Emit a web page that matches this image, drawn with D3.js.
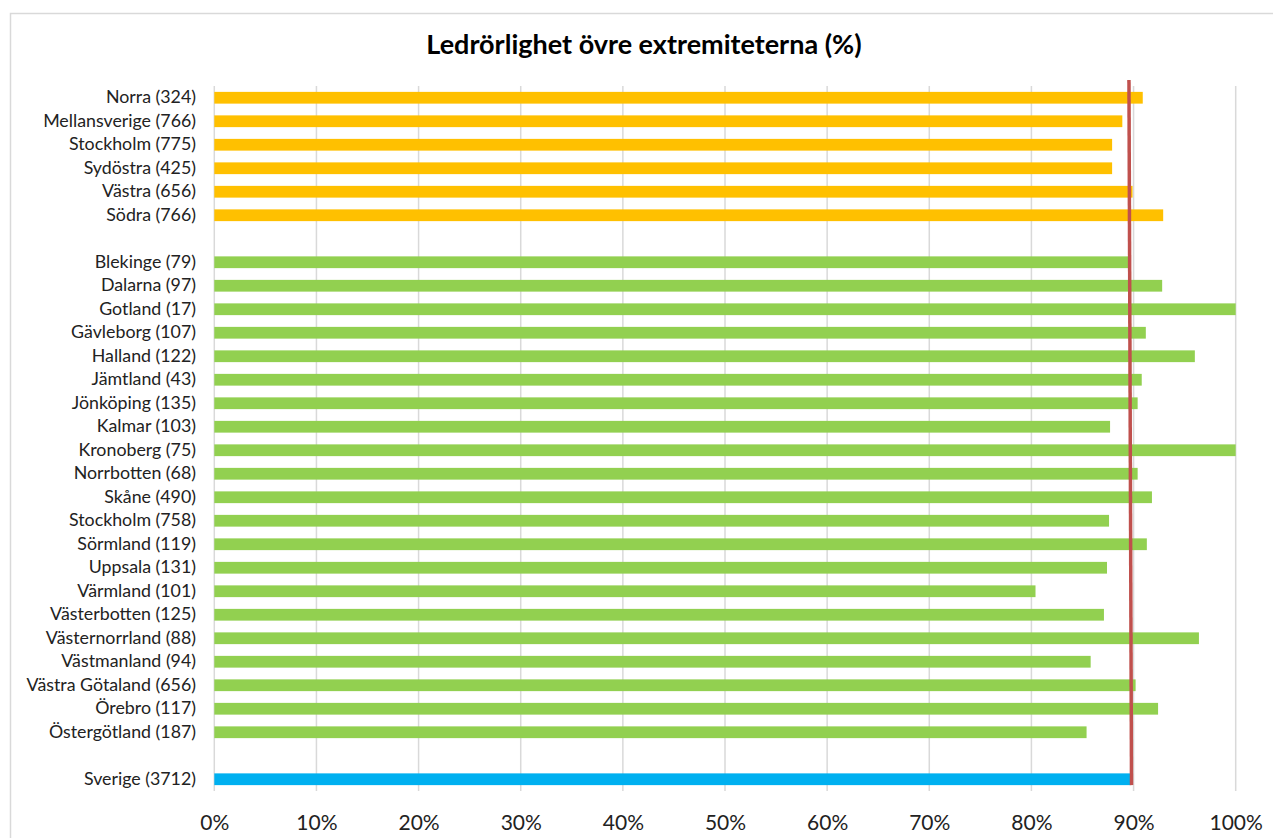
<!DOCTYPE html>
<html>
<head>
<meta charset="utf-8">
<script src="https://cdn.jsdelivr.net/npm/d3@7/dist/d3.min.js"></script>
<style>
  html, body { margin: 0; padding: 0; background: #fff; }
  svg { display: block; }
  text { font-family: Lato, "Open Sans", sans-serif; }
</style>
</head>
<body>
<svg id="chart" width="1273" height="838"></svg>
<script>
// Regional groups (number of patients in parentheses)
const regions = ["Norra (324)", "Mellansverige (766)", "Stockholm (775)", "Sydöstra (425)", "Västra (656)", "Södra (766)"];
const regionValues = [90.9, 88.9, 87.9, 87.9, 89.9, 92.9];

// Counties
const counties = [
  "Blekinge (79)", "Dalarna (97)", "Gotland (17)", "Gävleborg (107)", "Halland (122)",
  "Jämtland (43)", "Jönköping (135)", "Kalmar (103)", "Kronoberg (75)", "Norrbotten (68)",
  "Skåne (490)", "Stockholm (758)", "Sörmland (119)", "Uppsala (131)", "Värmland (101)",
  "Västerbotten (125)", "Västernorrland (88)", "Västmanland (94)", "Västra Götaland (656)",
  "Örebro (117)", "Östergötland (187)"
];
const countyValues = [89.5, 92.8, 100, 91.2, 96.0, 90.8, 90.4, 87.7, 100, 90.4,
                      91.8, 87.6, 91.3, 87.4, 80.4, 87.1, 96.4, 85.8, 90.2, 92.4, 85.4];

// National total
const national = ["Sverige (3712)"];
const nationalValues = [89.7];

// National reference line: value at the top and at the bottom end
const referenceLine = [89.55, 89.8];

const xTicks = [0, 10, 20, 30, 40, 50, 60, 70, 80, 90, 100];
const title = "Ledrörlighet övre extremiteterna (%)";

const colors = { region: "#FFC000", county: "#92D050", national: "#00B0F0", ref: "#C0504D", grid: "#D9D9D9" };

// Build rows with blank spacer slots between the groups
const rows = [];
regions.forEach((c, i) => rows.push({ key: "r" + i, label: c, value: regionValues[i], group: "region" }));
rows.push({ key: "gap1", label: "", value: null });
counties.forEach((c, i) => rows.push({ key: "c" + i, label: c, value: countyValues[i], group: "county" }));
rows.push({ key: "gap2", label: "", value: null });
national.forEach((c, i) => rows.push({ key: "s" + i, label: c, value: nationalValues[i], group: "national" }));

const svg = d3.select("#chart");
const W = 1273, H = 838;
const plot = { left: 214.3, right: 1235.7, top: 86, bottom: 791 };

// Chart frame
svg.append("rect")
  .attr("x", 10.5).attr("y", 13.5)
  .attr("width", W + 20).attr("height", H + 20)
  .attr("fill", "#fff").attr("stroke", colors.grid).attr("stroke-width", 1.5);

const x = d3.scaleLinear().domain([0, 100]).range([plot.left, plot.right]);
const y = d3.scaleBand().domain(rows.map(d => d.key))
  .range([plot.top, plot.bottom]).paddingInner(0.5).paddingOuter(0.25);

// Title
svg.append("text")
  .attr("x", 644).attr("y", 54)
  .attr("text-anchor", "middle")
  .attr("font-size", 27).attr("font-weight", 700).attr("fill", "#000")
  .text(title);

// Vertical gridlines
svg.append("g").selectAll("line").data(xTicks).join("line")
  .attr("x1", d => x(d)).attr("x2", d => x(d))
  .attr("y1", plot.top).attr("y2", plot.bottom)
  .attr("stroke", colors.grid).attr("stroke-width", 1.5);

// Bars
svg.append("g").selectAll("rect").data(rows.filter(d => d.value != null)).join("rect")
  .attr("x", x(0))
  .attr("y", d => y(d.key))
  .attr("width", d => x(d.value) - x(0))
  .attr("height", y.bandwidth())
  .attr("fill", d => colors[d.group]);

// Category labels
const yAxis = d3.axisLeft(y).tickSize(0).tickPadding(0)
  .tickFormat(k => rows.find(r => r.key === k).label);
const gy = svg.append("g").attr("transform", `translate(196,0)`).call(yAxis);
gy.select(".domain").remove();
gy.selectAll("text")
  .attr("font-family", "Lato, sans-serif")
  .attr("font-size", 17.8).attr("fill", "#222");

// Percentage axis
const xAxis = d3.axisBottom(x).tickValues(xTicks).tickSize(0).tickPadding(0)
  .tickFormat(d => d + "%");
const gx = svg.append("g").attr("transform", `translate(0,${plot.bottom + 24})`).call(xAxis);
gx.select(".domain").remove();
gx.selectAll("text")
  .attr("font-family", "Lato, sans-serif")
  .attr("font-size", 21).attr("fill", "#222");

// Reference line
const sverigeKey = rows[rows.length - 1].key;
svg.append("line")
  .attr("x1", x(referenceLine[0])).attr("y1", plot.top - 6)
  .attr("x2", x(referenceLine[1])).attr("y2", y(sverigeKey) + y.bandwidth())
  .attr("stroke", colors.ref).attr("stroke-width", 3.5);
</script>
</body>
</html>
